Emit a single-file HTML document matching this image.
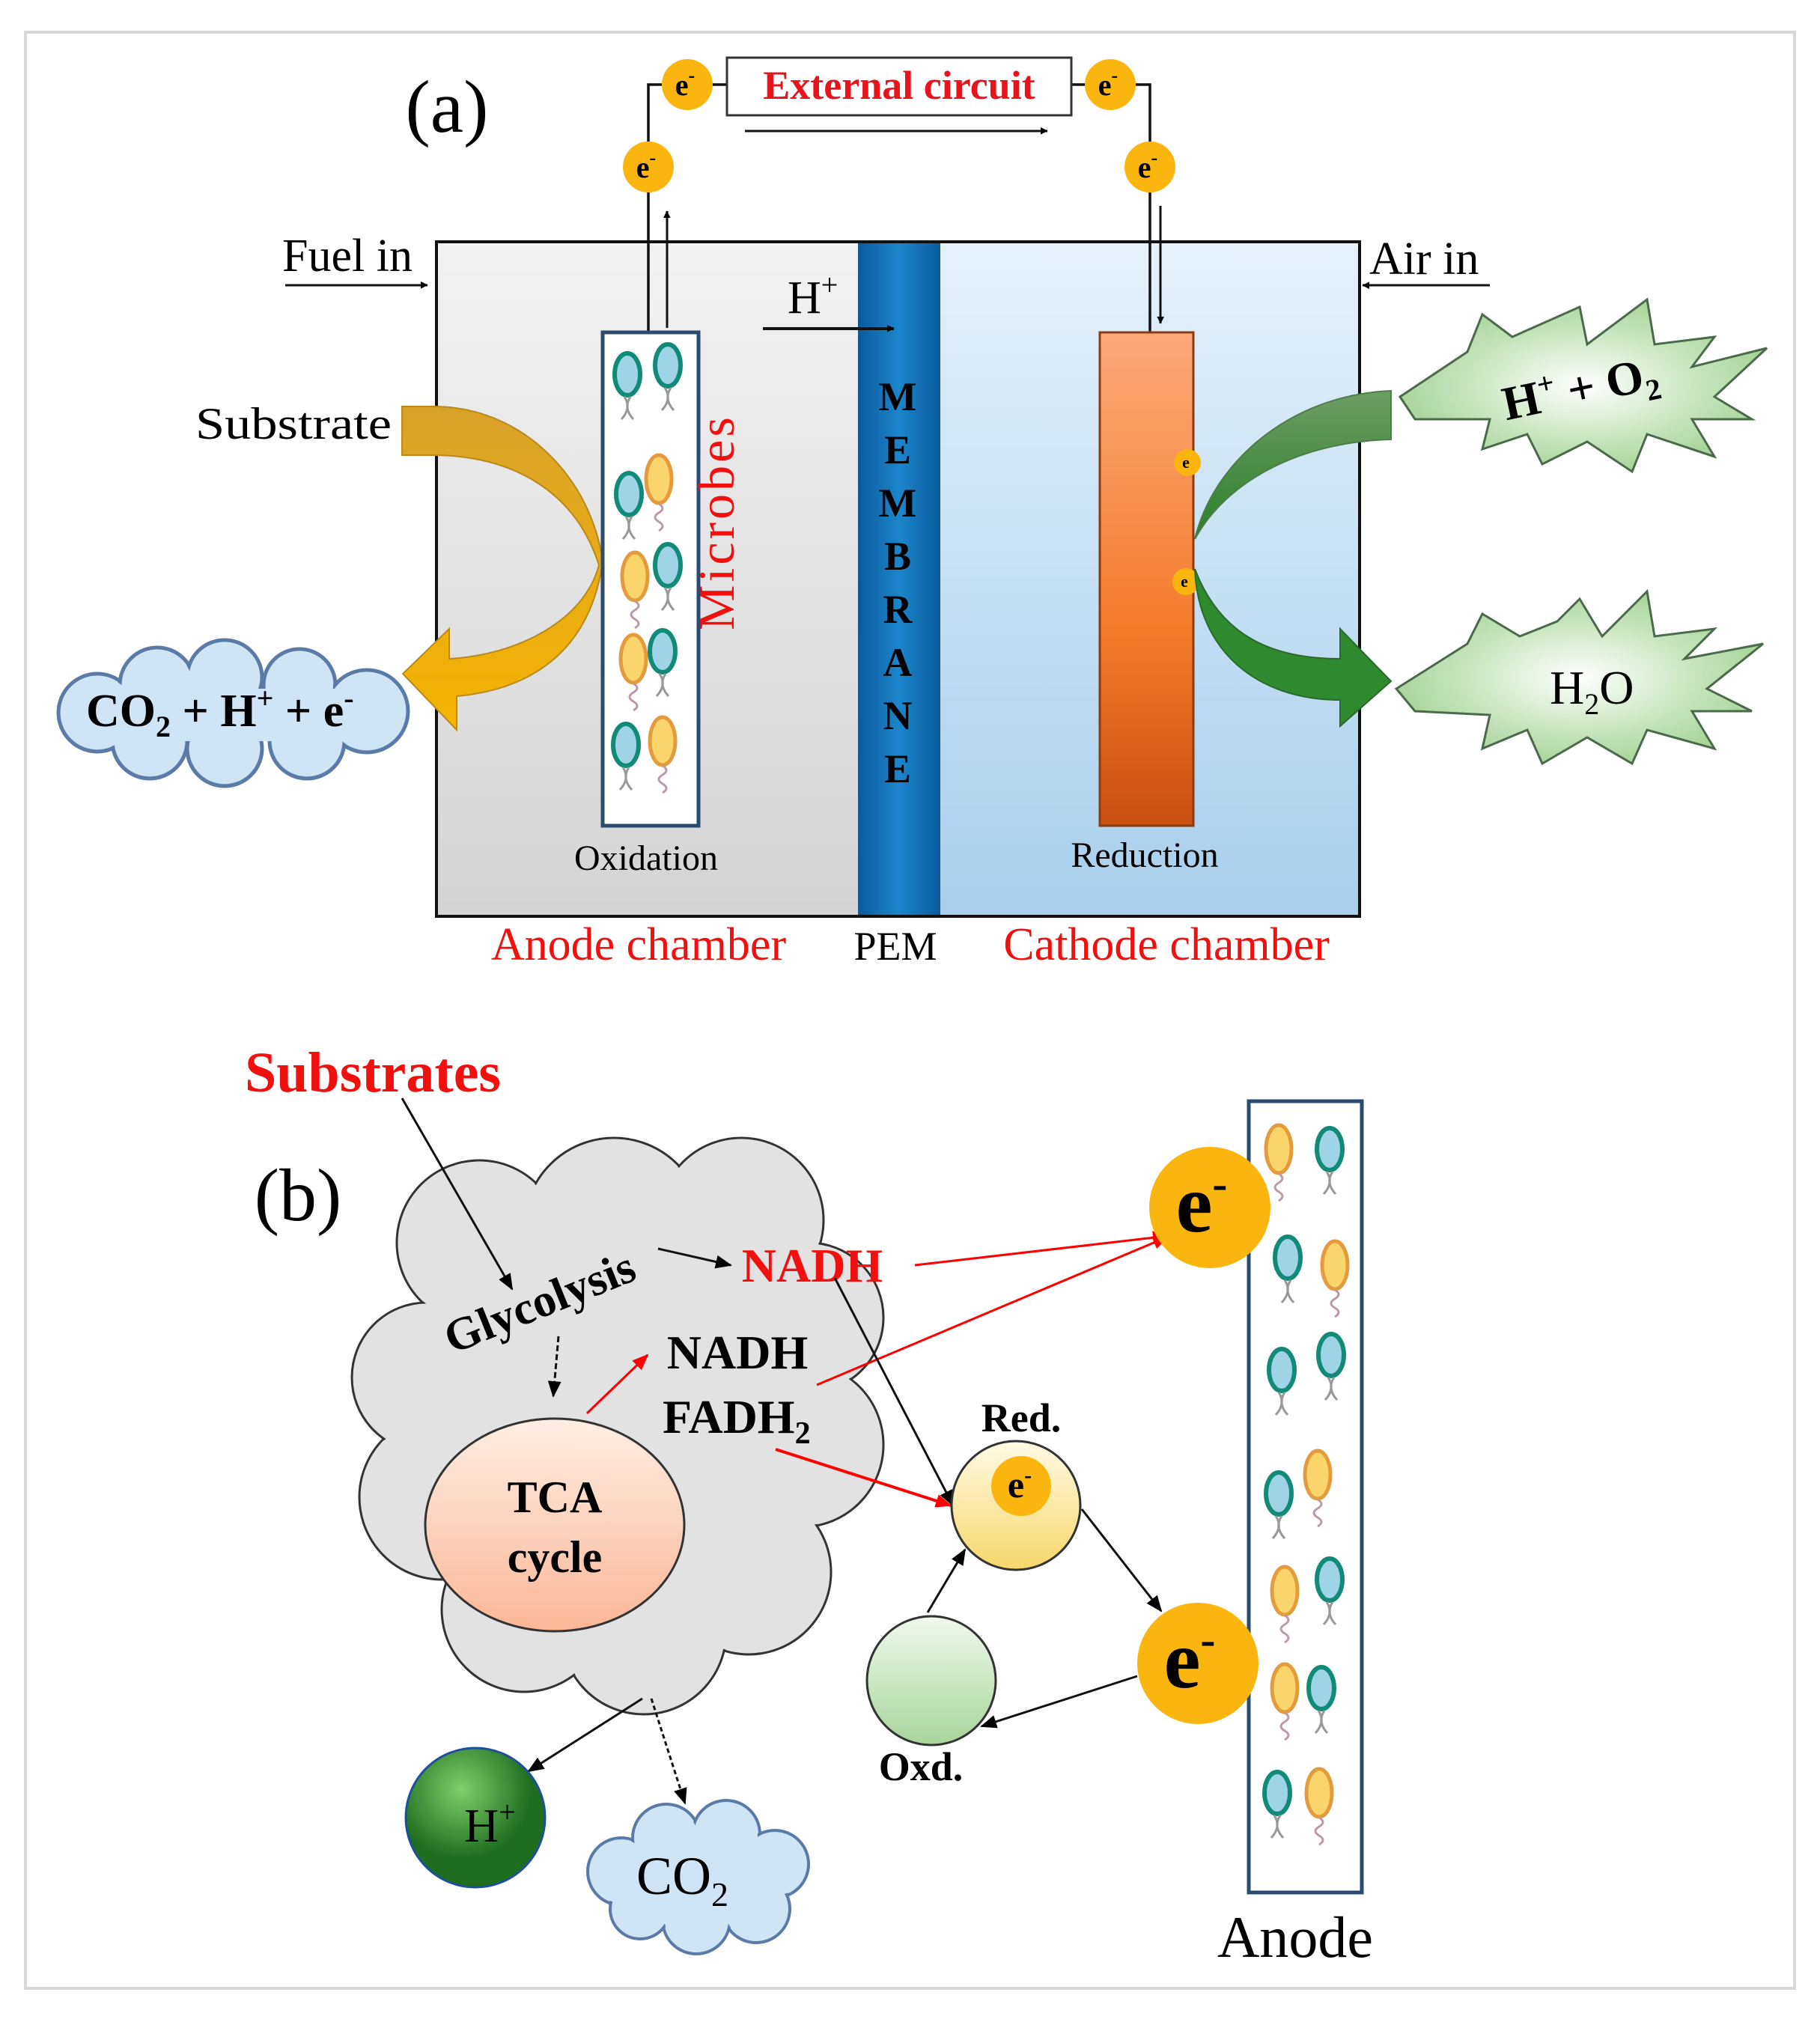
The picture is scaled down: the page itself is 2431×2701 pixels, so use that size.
<!DOCTYPE html>
<html><head><meta charset="utf-8"><style>
html,body{margin:0;padding:0;background:#fff}
svg{display:block}
text{font-family:"Liberation Serif",serif}
</style></head><body>
<svg width="2431" height="2701" viewBox="0 0 2431 2701" xmlns="http://www.w3.org/2000/svg">
<defs>
<linearGradient id="ga" x1="0" y1="0" x2="0" y2="1"><stop offset="0" stop-color="#f2f2f2"/><stop offset="1" stop-color="#d4d4d4"/></linearGradient>
<linearGradient id="gc" x1="0" y1="0" x2="0" y2="1"><stop offset="0" stop-color="#e6f1fa"/><stop offset="1" stop-color="#a7cfec"/></linearGradient>
<linearGradient id="gm" x1="0" y1="0" x2="1" y2="0"><stop offset="0" stop-color="#0b5a9a"/><stop offset="0.5" stop-color="#1b86cc"/><stop offset="1" stop-color="#0b5a9a"/></linearGradient>
<linearGradient id="ge" x1="0" y1="0" x2="0" y2="1"><stop offset="0" stop-color="#fba97b"/><stop offset="0.6" stop-color="#f57b2a"/><stop offset="1" stop-color="#c9500f"/></linearGradient>
<linearGradient id="gy" x1="0" y1="0" x2="0" y2="1"><stop offset="0" stop-color="#d8a22a"/><stop offset="1" stop-color="#f5b400"/></linearGradient>
<linearGradient id="gg" x1="0" y1="0" x2="0" y2="1"><stop offset="0" stop-color="#6c9e62"/><stop offset="1" stop-color="#2a7f2a"/></linearGradient>
<radialGradient id="gs"><stop offset="0" stop-color="#ffffff"/><stop offset="1" stop-color="#a9d59a"/></radialGradient>
<linearGradient id="gcl" x1="0" y1="0" x2="0" y2="1"><stop offset="0" stop-color="#eaf4fb"/><stop offset="1" stop-color="#9ec9ea"/></linearGradient>
<linearGradient id="gbc" x1="0" y1="0" x2="0" y2="1"><stop offset="0" stop-color="#f7f7f7"/><stop offset="1" stop-color="#d0d0d0"/></linearGradient>
<linearGradient id="gt" x1="0" y1="0" x2="0" y2="1"><stop offset="0" stop-color="#ffeee4"/><stop offset="1" stop-color="#fbb796"/></linearGradient>
<linearGradient id="gr" x1="0" y1="0" x2="0" y2="1"><stop offset="0" stop-color="#fffbe6"/><stop offset="1" stop-color="#f7d76a"/></linearGradient>
<linearGradient id="go" x1="0" y1="0" x2="0" y2="1"><stop offset="0" stop-color="#f0f8ee"/><stop offset="1" stop-color="#a8d59a"/></linearGradient>
<radialGradient id="gh" cx="0.4" cy="0.3"><stop offset="0" stop-color="#7fcf6a"/><stop offset="1" stop-color="#1f6d1f"/></radialGradient>
<marker id="ab" markerWidth="10" markerHeight="10" refX="9" refY="5" orient="auto" markerUnits="userSpaceOnUse"><path d="M0,0 L10,5 L0,10 z" fill="#000" transform="scale(1.6) translate(-4,-2)"/></marker>
<marker id="ar" markerWidth="22" markerHeight="18" refX="20" refY="9" orient="auto" markerUnits="userSpaceOnUse"><path d="M0,0 L22,9 L0,18 z" fill="#f00"/></marker>
<marker id="ak" markerWidth="22" markerHeight="18" refX="20" refY="9" orient="auto" markerUnits="userSpaceOnUse"><path d="M0,0 L22,9 L0,18 z" fill="#000"/></marker>
<g id="bg"><ellipse cx="0" cy="0" rx="17" ry="28" fill="#9fd3e6" stroke="#128a78" stroke-width="6"/><path d="M-4,30 q10,15 -4,30 M4,30 q-10,15 4,30" stroke="#999" stroke-width="3" fill="none"/></g>
<g id="by"><ellipse cx="0" cy="0" rx="17" ry="32" fill="#f9d56b" stroke="#e39b3c" stroke-width="5"/><path d="M0,33 q10,6 0,12 q-10,6 0,12 q10,6 0,12" stroke="#b9a" stroke-width="3" fill="none"/></g>
</defs>

<rect x="34" y="43" width="2363" height="2613" fill="#fff" stroke="#d8d8d8" stroke-width="4"/>

<rect x="583" y="323" width="563" height="901" fill="url(#ga)"/>
<rect x="1256" y="323" width="560" height="901" fill="url(#gc)"/>
<rect x="1146" y="323" width="110" height="901" fill="url(#gm)"/>
<rect x="583" y="323" width="1233" height="901" fill="none" stroke="#111" stroke-width="4"/>

<path d="M866,223 V113 H884 M952,113 H971 M1431,113 H1449 M1517,113 H1536 V223" stroke="#111" stroke-width="3.5" fill="none"/>
<path d="M866,257 V444 M1536,257 V444" stroke="#111" stroke-width="3.5" fill="none"/>
<rect x="971" y="77" width="460" height="77" fill="#fff" stroke="#333" stroke-width="3"/>
<text x="1201" y="132" font-size="54" font-weight="bold" fill="#e8141c" text-anchor="middle">External circuit</text>
<line x1="995" y1="175" x2="1399" y2="175" stroke="#111" stroke-width="3" marker-end="url(#ab)"/>
<line x1="891" y1="438" x2="891" y2="282" stroke="#111" stroke-width="3" marker-end="url(#ab)"/>
<line x1="1550" y1="275" x2="1550" y2="432" stroke="#111" stroke-width="3" marker-end="url(#ab)"/>

<g font-size="40" font-weight="bold" text-anchor="middle">
<circle cx="918" cy="113" r="34" fill="#fbb50f"/><text x="915" y="127">e<tspan dy="-18" font-size="26">-</tspan></text>
<circle cx="1483" cy="113" r="34" fill="#fbb50f"/><text x="1480" y="127">e<tspan dy="-18" font-size="26">-</tspan></text>
<circle cx="866" cy="223" r="34" fill="#fbb50f"/><text x="863" y="237">e<tspan dy="-18" font-size="26">-</tspan></text>
<circle cx="1536" cy="223" r="34" fill="#fbb50f"/><text x="1533" y="237">e<tspan dy="-18" font-size="26">-</tspan></text>
</g>
<text x="597" y="176" font-size="100" text-anchor="middle">(a)</text>

<text x="377" y="362" font-size="62">Fuel in</text>
<line x1="381" y1="381" x2="571" y2="381" stroke="#111" stroke-width="3" marker-end="url(#ab)"/>
<text x="1829" y="366" font-size="62">Air in</text>
<line x1="1990" y1="381" x2="1820" y2="381" stroke="#111" stroke-width="3" marker-end="url(#ab)"/>
<text x="1052" y="418" font-size="62">H<tspan dy="-24" font-size="40">+</tspan></text>
<line x1="1019" y1="439" x2="1194" y2="439" stroke="#111" stroke-width="4" marker-end="url(#ab)"/>

<g font-size="54" font-weight="bold" text-anchor="middle" fill="#000">
<text x="1199" y="548">M</text><text x="1199" y="619">E</text><text x="1199" y="690">M</text><text x="1199" y="761">B</text><text x="1199" y="832">R</text><text x="1199" y="903">A</text><text x="1199" y="974">N</text><text x="1199" y="1045">E</text>
</g>

<path d="M537,543 L583,543 C700,545 790,640 805,750 C790,860 720,920 610,930 L610,975 L538,900 L600,840 L600,880 C690,875 780,830 800,755 C770,660 690,610 583,608 L537,608 Z" fill="url(#gy)" stroke="#b98a1a" stroke-width="2"/>
<text x="523" y="586" font-size="60" text-anchor="end" textLength="262" lengthAdjust="spacingAndGlyphs">Substrate</text>

<rect x="805" y="444" width="128" height="659" fill="#fff" stroke="#2d4a70" stroke-width="5"/>
<use href="#bg" x="838" y="500"/><use href="#bg" x="892" y="488"/>
<use href="#bg" x="840" y="660"/><use href="#by" x="880" y="640"/>
<use href="#by" x="848" y="770"/><use href="#bg" x="892" y="755"/>
<use href="#by" x="846" y="880"/><use href="#bg" x="885" y="870"/>
<use href="#bg" x="836" y="995"/><use href="#by" x="885" y="990"/>
<text transform="translate(980,842) rotate(-90)" font-size="68" fill="#f01010" letter-spacing="4">Microbes</text>
<text x="863" y="1162" font-size="48" text-anchor="middle">Oxidation</text>

<rect x="1469" y="444" width="125" height="659" fill="url(#ge)" stroke="#8a3b12" stroke-width="3"/>
<g font-size="22" font-weight="bold" text-anchor="middle">
<circle cx="1586" cy="618" r="18" fill="#fbb50f"/><text x="1584" y="625">e</text>
<circle cx="1584" cy="777" r="18" fill="#fbb50f"/><text x="1582" y="784">e</text>
</g>
<text x="1529" y="1158" font-size="48" text-anchor="middle">Reduction</text>

<path d="M1858,522 L1858,587 C1740,590 1640,640 1596,720 C1620,620 1720,528 1858,522 Z" fill="url(#gg)" stroke="#4d7d4a" stroke-width="2"/>
<path d="M1596,760 C1630,850 1700,880 1790,880 L1790,840 L1858,910 L1790,970 L1790,935 C1680,935 1600,870 1596,760 Z" fill="#2f8a2f" stroke="#2a6a2a" stroke-width="2"/>

<polygon points="1870,530 1960,470 1980,420 2020,450 2110,410 2120,460 2200,400 2210,460 2290,450 2260,490 2360,465 2290,530 2340,560 2260,560 2290,610 2200,580 2180,630 2120,590 2060,620 2040,580 1980,600 1990,560 1890,560" fill="url(#gs)" stroke="#4b6a4b" stroke-width="3"/>
<text x="2111" y="540" font-size="64" font-weight="bold" text-anchor="middle" transform="rotate(-12 2111 520)">H<tspan dy="-24" font-size="40">+</tspan><tspan dy="24"> + O</tspan><tspan dy="14" font-size="40">2</tspan></text>
<polygon points="1865,920 1960,860 1980,820 2030,850 2080,830 2110,800 2140,850 2200,790 2210,850 2290,840 2250,880 2355,860 2280,920 2340,950 2260,950 2290,1000 2200,975 2180,1020 2120,985 2060,1020 2040,975 1980,1000 1990,955 1890,950" fill="url(#gs)" stroke="#4b6a4b" stroke-width="3"/>
<text x="2070" y="940" font-size="64">H<tspan dy="14" font-size="40">2</tspan><tspan dy="-14">O</tspan></text>

<g stroke="#5a7aa8" stroke-width="5" fill="url(#gcl)">
<circle cx="130" cy="952" r="52"/><circle cx="210" cy="915" r="50"/><circle cx="300" cy="905" r="50"/><circle cx="400" cy="915" r="48"/><circle cx="490" cy="950" r="55"/><circle cx="410" cy="990" r="50"/><circle cx="300" cy="1000" r="50"/><circle cx="200" cy="990" r="50"/>
</g>
<g fill="#cfe5f6">
<circle cx="130" cy="952" r="49"/><circle cx="210" cy="915" r="47"/><circle cx="300" cy="905" r="47"/><circle cx="400" cy="915" r="45"/><circle cx="490" cy="950" r="52"/><circle cx="410" cy="990" r="47"/><circle cx="300" cy="1000" r="47"/><circle cx="200" cy="990" r="47"/><rect x="150" y="920" width="340" height="70"/>
</g>
<text x="115" y="970" font-size="62" font-weight="bold">CO<tspan dy="14" font-size="40">2</tspan><tspan dy="-14"> + H</tspan><tspan dy="-24" font-size="40">+</tspan><tspan dy="24"> + e</tspan><tspan dy="-24" font-size="40">-</tspan></text>

<text x="853" y="1282" font-size="62" fill="#f01010" text-anchor="middle">Anode chamber</text>
<text x="1196" y="1282" font-size="54" text-anchor="middle">PEM</text>
<text x="1558" y="1282" font-size="62" fill="#f01010" text-anchor="middle">Cathode chamber</text>

<text x="498" y="1458" font-size="76" font-weight="bold" fill="#f01010" text-anchor="middle">Substrates</text>
<text x="398" y="1630" font-size="100" text-anchor="middle">(b)</text>

<g stroke="#333" stroke-width="3" fill="url(#gbc)">
<circle cx="640" cy="1660" r="110"/><circle cx="820" cy="1640" r="120"/><circle cx="990" cy="1630" r="110"/><circle cx="1080" cy="1760" r="100"/><circle cx="1070" cy="1930" r="110"/><circle cx="1000" cy="2100" r="110"/><circle cx="860" cy="2180" r="110"/><circle cx="700" cy="2150" r="110"/><circle cx="590" cy="2000" r="110"/><circle cx="570" cy="1840" r="100"/>
</g>
<g fill="#e2e2e2">
<circle cx="640" cy="1660" r="108"/><circle cx="820" cy="1640" r="118"/><circle cx="990" cy="1630" r="108"/><circle cx="1080" cy="1760" r="98"/><circle cx="1070" cy="1930" r="108"/><circle cx="1000" cy="2100" r="108"/><circle cx="860" cy="2180" r="108"/><circle cx="700" cy="2150" r="108"/><circle cx="590" cy="2000" r="108"/><circle cx="570" cy="1840" r="98"/><rect x="600" y="1650" width="480" height="520"/>
</g>

<line x1="537" y1="1467" x2="684" y2="1722" stroke="#111" stroke-width="3" marker-end="url(#ak)"/>
<text x="721" y="1760" font-size="62" font-weight="bold" text-anchor="middle" transform="rotate(-22 721 1740)">Glycolysis</text>
<line x1="879" y1="1668" x2="976" y2="1690" stroke="#111" stroke-width="3" marker-end="url(#ak)"/>
<line x1="746" y1="1785" x2="739" y2="1865" stroke="#111" stroke-width="3" stroke-dasharray="8,4" marker-end="url(#ak)"/>
<text x="1085" y="1712" font-size="64" font-weight="bold" fill="#f01010" text-anchor="middle">NADH</text>
<text x="985" y="1828" font-size="64" font-weight="bold" text-anchor="middle">NADH</text>
<text x="885" y="1914" font-size="64" font-weight="bold">FADH<tspan dy="14" font-size="42">2</tspan></text>

<ellipse cx="741" cy="2037" rx="173" ry="142" fill="url(#gt)" stroke="#333" stroke-width="3"/>
<text x="741" y="2020" font-size="60" font-weight="bold" text-anchor="middle">TCA</text>
<text x="741" y="2100" font-size="60" font-weight="bold" text-anchor="middle">cycle</text>

<line x1="784" y1="1888" x2="865" y2="1810" stroke="#f00" stroke-width="3" marker-end="url(#ar)"/>
<line x1="1222" y1="1690" x2="1560" y2="1651" stroke="#f00" stroke-width="3" marker-end="url(#ar)"/>
<line x1="1091" y1="1850" x2="1560" y2="1652" stroke="#f00" stroke-width="3" marker-end="url(#ar)"/>
<line x1="1036" y1="1936" x2="1270" y2="2011" stroke="#f00" stroke-width="4" marker-end="url(#ar)"/>
<line x1="1115" y1="1707" x2="1273" y2="2011" stroke="#111" stroke-width="3" marker-end="url(#ak)"/>

<circle cx="1357" cy="2011" r="86" fill="url(#gr)" stroke="#333" stroke-width="3"/>
<circle cx="1364" cy="1985" r="40" fill="#fbb50f"/>
<text x="1362" y="2000" font-size="50" font-weight="bold" text-anchor="middle">e<tspan dy="-20" font-size="30">-</tspan></text>
<text x="1364" y="1912" font-size="54" font-weight="bold" text-anchor="middle">Red.</text>
<circle cx="1244" cy="2245" r="86" fill="url(#go)" stroke="#333" stroke-width="3"/>
<text x="1230" y="2378" font-size="54" font-weight="bold" text-anchor="middle">Oxd.</text>
<line x1="1445" y1="2016" x2="1551" y2="2152" stroke="#111" stroke-width="3" marker-end="url(#ak)"/>
<line x1="1519" y1="2239" x2="1311" y2="2306" stroke="#111" stroke-width="3" marker-end="url(#ak)"/>
<line x1="1239" y1="2154" x2="1289" y2="2070" stroke="#111" stroke-width="3" marker-end="url(#ak)"/>

<rect x="1668" y="1471" width="151" height="1057" fill="#fff" stroke="#2d4a70" stroke-width="5"/>
<use href="#by" x="1708" y="1535"/><use href="#bg" x="1776" y="1535"/>
<use href="#bg" x="1720" y="1680"/><use href="#by" x="1783" y="1690"/>
<use href="#bg" x="1712" y="1830"/><use href="#bg" x="1778" y="1810"/>
<use href="#bg" x="1708" y="1995"/><use href="#by" x="1760" y="1970"/>
<use href="#by" x="1716" y="2125"/><use href="#bg" x="1776" y="2110"/>
<use href="#by" x="1716" y="2255"/><use href="#bg" x="1765" y="2255"/>
<use href="#bg" x="1706" y="2395"/><use href="#by" x="1762" y="2395"/>
<text x="1730" y="2614" font-size="78" text-anchor="middle">Anode</text>

<circle cx="1616" cy="1613" r="81" fill="#fbb50f"/>
<text x="1605" y="1645" font-size="110" font-weight="bold" text-anchor="middle">e<tspan dy="-44" font-size="60">-</tspan></text>
<circle cx="1600" cy="2222" r="81" fill="#fbb50f"/>
<text x="1589" y="2254" font-size="110" font-weight="bold" text-anchor="middle">e<tspan dy="-44" font-size="60">-</tspan></text>

<line x1="858" y1="2269" x2="706" y2="2366" stroke="#111" stroke-width="3" marker-end="url(#ak)"/>
<line x1="870" y1="2269" x2="915" y2="2409" stroke="#111" stroke-width="3" stroke-dasharray="6,4" marker-end="url(#ak)"/>
<circle cx="635" cy="2428" r="93" fill="url(#gh)" stroke="#1e4f9a" stroke-width="3"/>
<text x="620" y="2460" font-size="64">H<tspan dy="-26" font-size="40">+</tspan></text>

<g stroke="#5a7aa8" stroke-width="4" fill="#cfe5f6">
<circle cx="830" cy="2500" r="45"/><circle cx="890" cy="2455" r="45"/><circle cx="970" cy="2450" r="45"/><circle cx="1035" cy="2490" r="45"/><circle cx="1010" cy="2550" r="45"/><circle cx="930" cy="2565" r="45"/><circle cx="855" cy="2550" r="40"/>
</g>
<g fill="#cfe5f6">
<circle cx="830" cy="2500" r="42"/><circle cx="890" cy="2455" r="42"/><circle cx="970" cy="2450" r="42"/><circle cx="1035" cy="2490" r="42"/><circle cx="1010" cy="2550" r="42"/><circle cx="930" cy="2565" r="42"/><circle cx="855" cy="2550" r="37"/><rect x="850" y="2460" width="170" height="110"/>
</g>
<text x="850" y="2530" font-size="72">CO<tspan dy="16" font-size="46">2</tspan></text>
</svg>
</body></html>
